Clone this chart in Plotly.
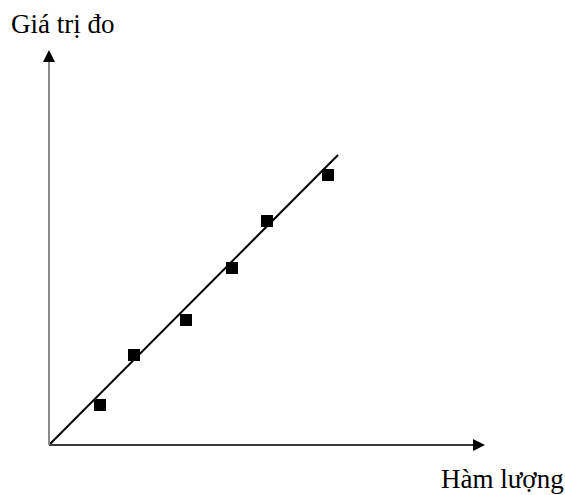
import plotly.graph_objects as go

# Data (arbitrary units)
ham_luong = [1.02, 1.70, 2.74, 3.66, 4.36, 5.58]
gia_tri_do = [0.80, 1.80, 2.50, 3.54, 4.48, 5.40]
fit_x = [0.0, 5.78]
fit_y = [0.0, 5.80]
x_axis_end = 8.72
y_axis_end = 7.90
x_label = "Hàm lượng"
y_label = "Giá trị đo"

W, H = 565, 495
px_per_unit = 50.0
ox, oy = 49, 445  # origin in figure pixels

fig = go.Figure()

fig.add_trace(go.Scatter(x=fit_x, y=fit_y, mode="lines",
                         line=dict(color="black", width=2), showlegend=False,
                         hoverinfo="skip"))
fig.add_trace(go.Scatter(x=ham_luong, y=gia_tri_do, mode="markers",
                         marker=dict(symbol="square", size=12, color="black"),
                         showlegend=False))

# axis lines
fig.add_shape(type="line", x0=0, y0=0, x1=x_axis_end - 0.1, y1=0, xref="x", yref="y",
              line=dict(color="#3a3a3a", width=2))
fig.add_shape(type="line", x0=0, y0=0, x1=0, y1=y_axis_end - 0.1, xref="x", yref="y",
              line=dict(color="#8a8a8a", width=2))
# arrowheads
fig.add_annotation(x=x_axis_end, y=0, ax=-8, ay=0, xref="x", yref="y",
                   showarrow=True, text="", arrowhead=2, arrowsize=1.6,
                   arrowwidth=1.5, arrowcolor="black")
fig.add_annotation(x=0, y=y_axis_end, ax=0, ay=8, xref="x", yref="y",
                   showarrow=True, text="", arrowhead=2, arrowsize=1.6,
                   arrowwidth=1.5, arrowcolor="black")

font = dict(family="Liberation Serif, Times New Roman, serif", size=27, color="black")
fig.add_annotation(x=9 / W, y=1 - 7 / H, xref="paper", yref="paper", text=y_label,
                   showarrow=False, xanchor="left", yanchor="top", font=font)
fig.add_annotation(x=439 / W, y=1 - 462 / H, xref="paper", yref="paper", text=x_label,
                   showarrow=False, xanchor="left", yanchor="top", font=font)

xr = [-ox / px_per_unit, (W - ox) / px_per_unit]
yr = [-(H - oy) / px_per_unit, oy / px_per_unit]

fig.update_layout(
    width=W, height=H,
    margin=dict(l=0, r=0, t=0, b=0),
    paper_bgcolor="white", plot_bgcolor="white",
    xaxis=dict(range=xr, visible=False, fixedrange=True),
    yaxis=dict(range=yr, visible=False, fixedrange=True),
    showlegend=False,
    hovermode=False,
)

fig.write_html("out.html",
               config={"displayModeBar": False, "staticPlot": True},
               post_script="document.body.style.margin='0';"
                           "document.body.style.overflow='hidden';")
